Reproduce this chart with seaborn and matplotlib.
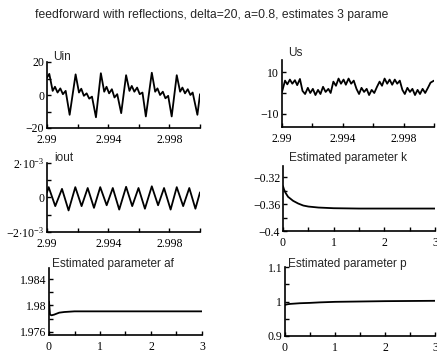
import numpy as np
import pandas as pd
import matplotlib
matplotlib.use("Agg")
import matplotlib.pyplot as plt
import seaborn as sns

# ---------------- data ----------------
uin_t = [2.99000, 2.99015, 2.99037, 2.99052, 2.99069, 2.99087, 2.99104, 2.99122, 2.99148,
         2.99187, 2.99209, 2.99224, 2.99241, 2.99259, 2.99276, 2.99294, 2.99320,
         2.99352, 2.99374, 2.99389, 2.99406, 2.99424, 2.99441, 2.99459, 2.99485,
         2.99517, 2.99539, 2.99554, 2.99571, 2.99589, 2.99606, 2.99624, 2.99646,
         2.99685, 2.99707, 2.99722, 2.99739, 2.99757, 2.99774, 2.99792, 2.99815,
         2.99848, 2.99870, 2.99885, 2.99902, 2.99920, 2.99937, 2.99952, 2.99983, 3.00000]
uin_v = [10.5, 12.8, 2.5, 5.0, 1.5, 4.0, 0.5, 2.5, -12.0,
         12.5, 1.5, 3.8, -0.5, 1.0, -2.2, -1.0, -13.5,
         13.2, 2.0, 5.0, 1.0, 3.5, -1.5, 0.5, -11.0,
         12.0, 2.5, 5.5, 2.0, 4.5, 0.5, 1.5, -13.0,
         13.5, 2.0, 4.0, 0.0, 2.0, -2.0, -0.5, -13.0,
         12.0, 2.0, 4.5, 1.0, 3.5, 0.0, 1.5, -12.0, 0.5]

us_t = [2.99000, 2.99020, 2.99035, 2.99052, 2.99068, 2.99085, 2.99100, 2.99118, 2.99135,
        2.99152, 2.99170, 2.99186, 2.99203, 2.99220, 2.99237, 2.99253, 2.99270, 2.99287,
        2.99305, 2.99320, 2.99338, 2.99355, 2.99372, 2.99388, 2.99405, 2.99420, 2.99438,
        2.99455, 2.99472, 2.99490, 2.99507, 2.99523, 2.99540, 2.99557, 2.99573, 2.99590,
        2.99607, 2.99625, 2.99642, 2.99658, 2.99675, 2.99692, 2.99708, 2.99725, 2.99742,
        2.99758, 2.99775, 2.99792, 2.99808, 2.99825, 2.99842, 2.99858, 2.99875, 2.99892,
        2.99908, 2.99925, 2.99942, 2.99960, 2.99977, 3.00000]
us_v = [0.5, 6.0, 4.2, 6.5, 4.5, 6.2, 3.8, 6.8, 1.0,
        -0.5, 2.5, 0.0, 2.0, -1.0, 1.5, -0.5, 3.0, 0.5,
        2.0, 0.0, 5.5, 3.5, 7.0, 4.5, 6.5, 4.0, 7.0,
        4.5, 6.0, 2.0, -0.5, 2.5, 0.5, 2.0, -1.0, 1.5,
        0.0, 3.0, 5.5, 3.5, 7.0, 4.5, 6.5, 4.0, 6.5,
        4.5, 6.0, 1.5, -0.5, 2.5, 0.5, 2.0, -1.0, 1.5,
        -0.5, 2.0, 0.0, 2.5, 5.0, 6.0]

iout_t = [2.99000, 2.99011, 2.99054, 2.99098, 2.99141, 2.99185, 2.99226, 2.99266, 2.99307,
          2.99348, 2.99390, 2.99430, 2.99472, 2.99517, 2.99557, 2.99598, 2.99640, 2.99685,
          2.99726, 2.99765, 2.99808, 2.99848, 2.99890, 2.99930, 2.99970, 3.00000]
iout_v = [0.3e-3, 0.6e-3, -0.5e-3, 0.5e-3, -0.75e-3, 0.6e-3, -0.5e-3, 0.55e-3, -0.6e-3,
          0.6e-3, -0.45e-3, 0.55e-3, -0.7e-3, 0.62e-3, -0.5e-3, 0.55e-3, -0.65e-3, 0.65e-3,
          -0.45e-3, 0.55e-3, -0.7e-3, 0.6e-3, -0.5e-3, 0.55e-3, -0.65e-3, 0.3e-3]

est_t = [0.0, 0.02, 0.05, 0.1, 0.2, 0.3, 0.4, 0.5, 0.7, 1.0, 1.5, 2.0, 2.5, 3.0]
k_v = [-0.333, -0.338, -0.343, -0.349, -0.355, -0.359, -0.362, -0.3635, -0.365,
       -0.366, -0.3665, -0.3665, -0.3665, -0.3665]
af_v = [1.9806, 1.9786, 1.9785, 1.9786, 1.9789, 1.9790, 1.97905, 1.9791, 1.9791,
        1.9791, 1.9791, 1.9791, 1.9791, 1.9791]
p_v = [0.990, 0.991, 0.992, 0.993, 0.994, 0.995, 0.9955, 0.996, 0.9975,
       0.999, 1.000, 1.001, 1.0015, 1.002]

main_title = "feedforward with reflections, delta=20, a=0.8, estimates 3 parame"

# ---------------- style ----------------
sns.set_style("ticks")
plt.rcParams["font.family"] = ["Liberation Serif", "DejaVu Serif"]
plt.rcParams["mathtext.fontset"] = "custom"
plt.rcParams["mathtext.rm"] = "Liberation Serif"
plt.rcParams["mathtext.it"] = "Liberation Serif:italic"
plt.rcParams["axes.unicode_minus"] = True
plt.rcParams["lines.solid_joinstyle"] = "round"

W, H = 437, 354
fig = plt.figure(figsize=(W / 100, H / 100), dpi=100)


def box(l, r, t, b):
    return [l / W, 1 - b / H, (r - l) / W, (b - t) / H]


def style(ax, xticks, xlabels, ylim, yticks, ylabels, xlim):
    ax.set_xlim(*xlim)
    ax.set_ylim(*ylim)
    ax.set_xticks(xticks)
    ax.set_xticklabels(xlabels)
    ax.set_yticks(yticks)
    ax.set_yticklabels(ylabels)
    ax.set_xlabel("")
    ax.set_ylabel("")
    for s in ["top", "right"]:
        ax.spines[s].set_visible(False)
    for s in ["left", "bottom"]:
        ax.spines[s].set_linewidth(1.2)
        ax.spines[s].set_color("black")
    ax.tick_params(direction="in", length=3, width=1.0, labelsize=8.5,
                   colors="black")
    ax.tick_params(axis="x", pad=4)
    ax.tick_params(axis="y", pad=2)
    ax.patch.set_alpha(0)


lw = 1.3
tx = [2.990, 2.992, 2.994, 2.996, 2.998, 3.000]
txl = ["2.99", "", "2.994", "", "2.998", ""]

ax1 = fig.add_axes(box(47, 200, 62, 128))
sns.lineplot(x=uin_t, y=uin_v, ax=ax1, color="black", linewidth=lw)
style(ax1, tx, txl, (-20, 20), [-20, -10, 0, 10, 20], ["\u221220", "", "0", "", "20"], (2.99, 3.0))

ax2 = fig.add_axes(box(282, 434, 60, 127))
sns.lineplot(x=us_t, y=us_v, ax=ax2, color="black", linewidth=lw)
style(ax2, tx, txl, (-16.5, 16), [-10, 0, 10], ["\u221210", "", "10"], (2.99, 3.0))

ax3 = fig.add_axes(box(47, 200, 163, 232))
sns.lineplot(x=iout_t, y=iout_v, ax=ax3, color="black", linewidth=lw)
style(ax3, tx, txl, (-2e-3, 2e-3), [-2e-3, -1e-3, 0, 1e-3, 2e-3],
      [r"$\mathrm{-2{\cdot}10^{-3}}$", "", "0", "", r"$\mathrm{2{\cdot}10^{-3}}$"], (2.99, 3.0))

ex = [0, 0.5, 1, 1.5, 2, 2.5, 3]
exl = ["0", "", "1", "", "2", "", "3"]

ax4 = fig.add_axes(box(283, 435, 166, 231))
sns.lineplot(x=est_t, y=k_v, ax=ax4, color="black", linewidth=lw)
style(ax4, ex, exl, (-0.4, -0.303), [-0.4, -0.38, -0.36, -0.34, -0.32],
      ["\u22120.4", "", "\u22120.36", "", "\u22120.32"], (0, 3))

ax5 = fig.add_axes(box(49, 202, 268, 335))
sns.lineplot(x=est_t, y=af_v, ax=ax5, color="black", linewidth=lw)
style(ax5, ex, exl, (1.9755, 1.9857), [1.976, 1.978, 1.980, 1.982, 1.984],
      ["1.976", "", "1.98", "", "1.984"], (0, 3))

ax6 = fig.add_axes(box(285, 435, 267, 336))
sns.lineplot(x=est_t, y=p_v, ax=ax6, color="black", linewidth=lw)
style(ax6, ex, exl, (0.9, 1.1), [0.9, 0.95, 1.0, 1.05, 1.1],
      ["0.9", "", "1", "", "1.1"], (0, 3))

sans = ["Liberation Sans", "DejaVu Sans"]
fig.text(212 / W, 1 - 15 / H, main_title, ha="center", va="center",
         fontsize=8.7, family=sans)
for (x, y, s) in [(53, 57, "Uin"), (288, 53, "Us"), (54, 158, "iout"),
                  (289, 158, "Estimated parameter k"),
                  (52, 264, "Estimated parameter af"),
                  (288, 264, "Estimated parameter p")]:
    fig.text(x / W, 1 - y / H, s, ha="left", va="center", fontsize=8.5, family=sans)

fig.savefig("out.png", dpi=100, facecolor="white")
